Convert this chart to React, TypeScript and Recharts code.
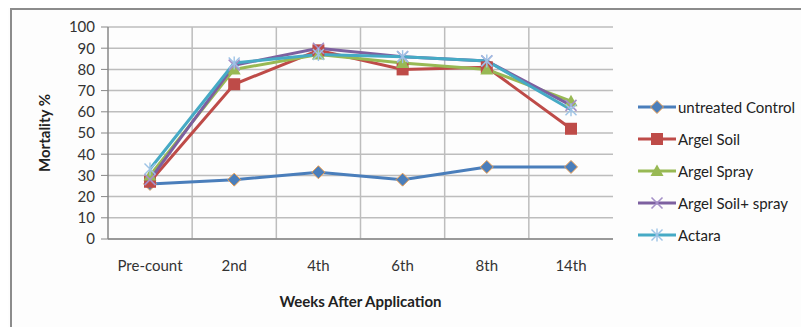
import React from 'react';
import { LineChart, Line, XAxis, YAxis, CartesianGrid } from 'recharts';

const weeks = ['Pre-count', '2nd', '4th', '6th', '8th', '14th'];
const untreatedControl = [26, 28, 31.5, 28, 34, 34];
const argelSoil = [27, 73, 89, 80, 81, 52];
const argelSpray = [30, 80, 87, 83, 80, 65];
const argelSoilSpray = [28, 82, 90, 86, 84, 63];
const actara = [33, 83, 87, 86, 84, 61];
const yTicks = [0, 10, 20, 30, 40, 50, 60, 70, 80, 90, 100];

const data = weeks.map((week, i) => ({
  week,
  control: untreatedControl[i],
  soil: argelSoil[i],
  spray: argelSpray[i],
  soilSpray: argelSoilSpray[i],
  actara: actara[i],
}));

type MarkerKind = 'diamond' | 'square' | 'triangle' | 'cross' | 'star';

const Marker = ({ kind, cx, cy, color }: { kind: MarkerKind; cx: number; cy: number; color: string }) => {
  if (kind === 'diamond') {
    const r = 6.5;
    return (
      <polygon
        points={`${cx},${cy - r} ${cx + r},${cy} ${cx},${cy + r} ${cx - r},${cy}`}
        fill={color}
        stroke="#F0A050"
        strokeWidth={1}
      />
    );
  }
  if (kind === 'square') {
    return <rect x={cx - 6} y={cy - 6} width={12} height={12} fill={color} />;
  }
  if (kind === 'triangle') {
    return <polygon points={`${cx},${cy - 6.5} ${cx + 6.5},${cy + 5} ${cx - 6.5},${cy + 5}`} fill={color} />;
  }
  if (kind === 'cross') {
    const r = 5.5;
    return (
      <g stroke={color} strokeWidth={1.6}>
        <line x1={cx - r} y1={cy - r} x2={cx + r} y2={cy + r} />
        <line x1={cx - r} y1={cy + r} x2={cx + r} y2={cy - r} />
      </g>
    );
  }
  const r = 5.5;
  return (
    <g stroke={color} strokeWidth={1.4}>
      <line x1={cx - r} y1={cy - r} x2={cx + r} y2={cy + r} />
      <line x1={cx - r} y1={cy + r} x2={cx + r} y2={cy - r} />
      <line x1={cx} y1={cy - r - 1} x2={cx} y2={cy + r + 1} />
    </g>
  );
};

const series: { key: string; name: string; color: string; markerColor: string; kind: MarkerKind }[] = [
  { key: 'control', name: 'untreated Control', color: '#4A7EBB', markerColor: '#4A7EBB', kind: 'diamond' },
  { key: 'soil', name: 'Argel Soil', color: '#BE4B48', markerColor: '#BE4B48', kind: 'square' },
  { key: 'spray', name: 'Argel Spray', color: '#98B954', markerColor: '#98B954', kind: 'triangle' },
  { key: 'soilSpray', name: 'Argel Soil+ spray', color: '#7D60A0', markerColor: '#A590C8', kind: 'cross' },
  { key: 'actara', name: 'Actara', color: '#46AAC5', markerColor: '#9DC3E6', kind: 'star' },
];

const LegendBox = () => (
  <div style={{ position: 'absolute', left: 630, top: 83, display: 'flex', flexDirection: 'column' }}>
    {series.map((s) => (
      <div key={s.key} style={{ height: 32, display: 'flex', alignItems: 'center' }}>
        <svg width={40} height={16} style={{ display: 'block' }}>
          <line x1={0} y1={8} x2={38} y2={8} stroke={s.color} strokeWidth={3} />
          <Marker kind={s.kind} cx={19} cy={8} color={s.markerColor} />
        </svg>
        <span style={{ fontSize: 15, color: '#222', whiteSpace: 'nowrap' }}>{s.name}</span>
      </div>
    ))}
  </div>
);

// vertical grid lines sit on the category boundaries, not on the ticks
const bandBoundaries = ({ offset }: any) => {
  const out: number[] = [];
  for (let k = 1; k < weeks.length; k++) out.push(offset.left + (offset.width * k) / weeks.length);
  return out;
};

const App = () => {
  return (
    <div style={{ position: 'relative', width: 801, height: 319, fontFamily: 'Lato, sans-serif', background: '#fdfdfd' }}>
      <div
        style={{
          position: 'absolute',
          left: 2,
          top: 0,
          right: 0,
          bottom: 0,
          borderTop: '2px solid #8c8c8c',
          borderLeft: '2px solid #8c8c8c',
        }}
      />
      <LineChart width={801} height={319} data={data} margin={{ top: 19, right: 196, bottom: 28, left: 40 }}>
        <CartesianGrid stroke="#BDBDBD" strokeWidth={1.5} verticalCoordinatesGenerator={bandBoundaries} />
        <XAxis
          dataKey="week"
          height={60}
          padding={{ left: 42, right: 42 }}
          tickSize={0}
          tickMargin={21}
          tick={{ fontSize: 15, fill: '#333' }}
          axisLine={{ stroke: '#878787', strokeWidth: 1.5 }}
          label={{ value: 'Weeks  After Application', position: 'insideBottom', offset: -8, style: { fontSize: 15, fontWeight: 700, fill: '#222' } }}
        />
        <YAxis
          width={60}
          domain={[0, 100]}
          ticks={yTicks}
          interval={0}
          tickSize={7}
          tickMargin={6}
          tick={{ fontSize: 15, fill: '#333' }}
          tickLine={{ stroke: '#878787' }}
          axisLine={{ stroke: '#878787', strokeWidth: 1.5 }}
          label={{ value: 'Mortality %', angle: -90, position: 'insideLeft', offset: -3, style: { textAnchor: 'middle', fontSize: 15, fontWeight: 700, fill: '#222' } }}
        />
        {series.map((s) => (
          <Line
            key={s.key}
            type="linear"
            dataKey={s.key}
            name={s.name}
            stroke={s.color}
            strokeWidth={3}
            isAnimationActive={false}
            dot={(p: any) => <Marker key={`${s.key}-${p.index}`} kind={s.kind} cx={p.cx} cy={p.cy} color={s.markerColor} />}
            activeDot={false}
          />
        ))}
      </LineChart>
      <LegendBox />
    </div>
  );
};

export default App;
